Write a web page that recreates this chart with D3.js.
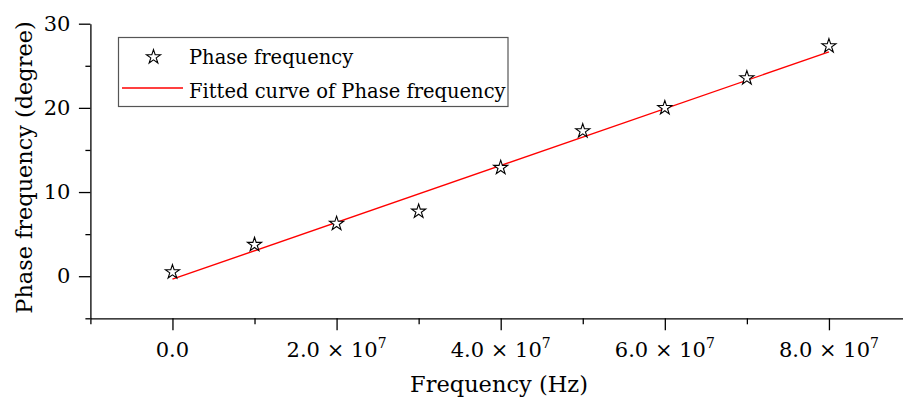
<!DOCTYPE html>
<html><head><meta charset="utf-8">
<script src="https://cdn.jsdelivr.net/npm/d3@7"></script>
<style>body{margin:0;background:#fff}svg{display:block}</style>
</head><body><svg id="c" width="903" height="398"></svg>
<script>
// Data
const freq = [0, 1e7, 2e7, 3e7, 4e7, 5e7, 6e7, 7e7, 8e7];
const phase = [0.5, 3.75, 6.25, 7.7, 12.9, 17.25, 20.0, 23.55, 27.35];
const fitFreq = [0, 8e7];
const fitPhase = [-0.35, 26.65];
const xMajorTicks = [0, 2e7, 4e7, 6e7, 8e7];
const xMinorTicks = [-1e7, 1e7, 3e7, 5e7, 7e7];
const xTickMantissa = ["0.0", "2.0", "4.0", "6.0", "8.0"];
const xTickExponent = [null, "7", "7", "7", "7"];
const yMajorTicks = [0, 10, 20, 30];
const yMinorTicks = [-5, 5, 15, 25];
const legendLabels = ["Phase frequency", "Fitted curve of Phase frequency"];
const xTitle = "Frequency (Hz)";
const yTitle = "Phase frequency (degree)";

const svg = d3.select("#c");
const FONT = "DejaVu Serif";
const x = d3.scaleLinear().domain([-1e7, 9e7]).range([90.4, 911]);
const y = d3.scaleLinear().domain([-5, 30]).range([318.3, 23.7]);

// X axis
const gx = svg.append("g").attr("transform", `translate(0,${y(-5)})`);
gx.call(d3.axisBottom(x).tickValues(xMajorTicks).tickSize(12).tickSizeOuter(0).tickFormat(""));
gx.append("g").call(d3.axisBottom(x).tickValues(xMinorTicks).tickSize(6).tickSizeOuter(0).tickFormat(""))
  .select(".domain").remove();
gx.selectAll("line,path").attr("stroke", "#000").attr("stroke-width", 1.3);
xMajorTicks.forEach((v, i) => {
  const t = gx.append("text").attr("x", x(v)).attr("y", 39).attr("text-anchor", "middle")
    .attr("font-family", FONT).attr("font-size", 21).attr("fill", "#000");
  if (xTickExponent[i]) {
    t.append("tspan").text(xTickMantissa[i] + " × 10");
    t.append("tspan").attr("font-size", 14).attr("dy", -9).text(xTickExponent[i]);
  } else {
    t.text(xTickMantissa[i]);
  }
});

// Y axis
const gy = svg.append("g").attr("transform", `translate(${x(-1e7)},0)`);
gy.call(d3.axisLeft(y).tickValues(yMajorTicks).tickSize(11.5).tickSizeOuter(0).tickFormat(d3.format("d")));
gy.append("g").call(d3.axisLeft(y).tickValues(yMinorTicks).tickSize(5).tickSizeOuter(0).tickFormat(""))
  .select(".domain").remove();
gy.selectAll("line,path").attr("stroke", "#000").attr("stroke-width", 1.3);
gy.selectAll("text").attr("font-family", FONT).attr("font-size", 21).attr("fill", "#000").attr("x", -20);

// Titles
svg.append("text").attr("x", 499).attr("y", 392).attr("text-anchor", "middle")
  .attr("font-family", FONT).attr("font-size", 22.5).text(xTitle);
svg.append("text").attr("transform", "translate(32,167.5) rotate(-90)").attr("text-anchor", "middle")
  .attr("font-family", FONT).attr("font-size", 22.4).text(yTitle);

// Fitted line
const line = d3.line().x(d => x(d[0])).y(d => y(d[1]));
svg.append("path").datum(d3.zip(fitFreq, fitPhase)).attr("d", line)
  .attr("fill", "none").attr("stroke", "#ff0000").attr("stroke-width", 1.4);

// Star markers
const star = d3.symbol().type(d3.symbolStar).size(62);
svg.selectAll(".pt").data(d3.zip(freq, phase)).join("path").attr("class", "pt")
  .attr("transform", d => `translate(${x(d[0])},${y(d[1])})`)
  .attr("d", star).attr("fill", "#fff").attr("stroke", "#000").attr("stroke-width", 1.1);

// Legend
const lg = svg.append("g");
lg.append("rect").attr("x", 118.5).attr("y", 37.5).attr("width", 389.5).attr("height", 69)
  .attr("fill", "#fff").attr("stroke", "#555").attr("stroke-width", 1.2);
lg.append("path").attr("transform", "translate(153.5,57)").attr("d", star)
  .attr("fill", "#fff").attr("stroke", "#000").attr("stroke-width", 1.1);
lg.append("line").attr("x1", 122).attr("x2", 183).attr("y1", 88).attr("y2", 88)
  .attr("stroke", "#ff0000").attr("stroke-width", 1.4);
legendLabels.forEach((s, i) => {
  lg.append("text").attr("x", 189).attr("y", 64 + i * 34).attr("font-family", FONT)
    .attr("font-size", 19.5).attr("fill", "#000").text(s);
});
</script></body></html>
